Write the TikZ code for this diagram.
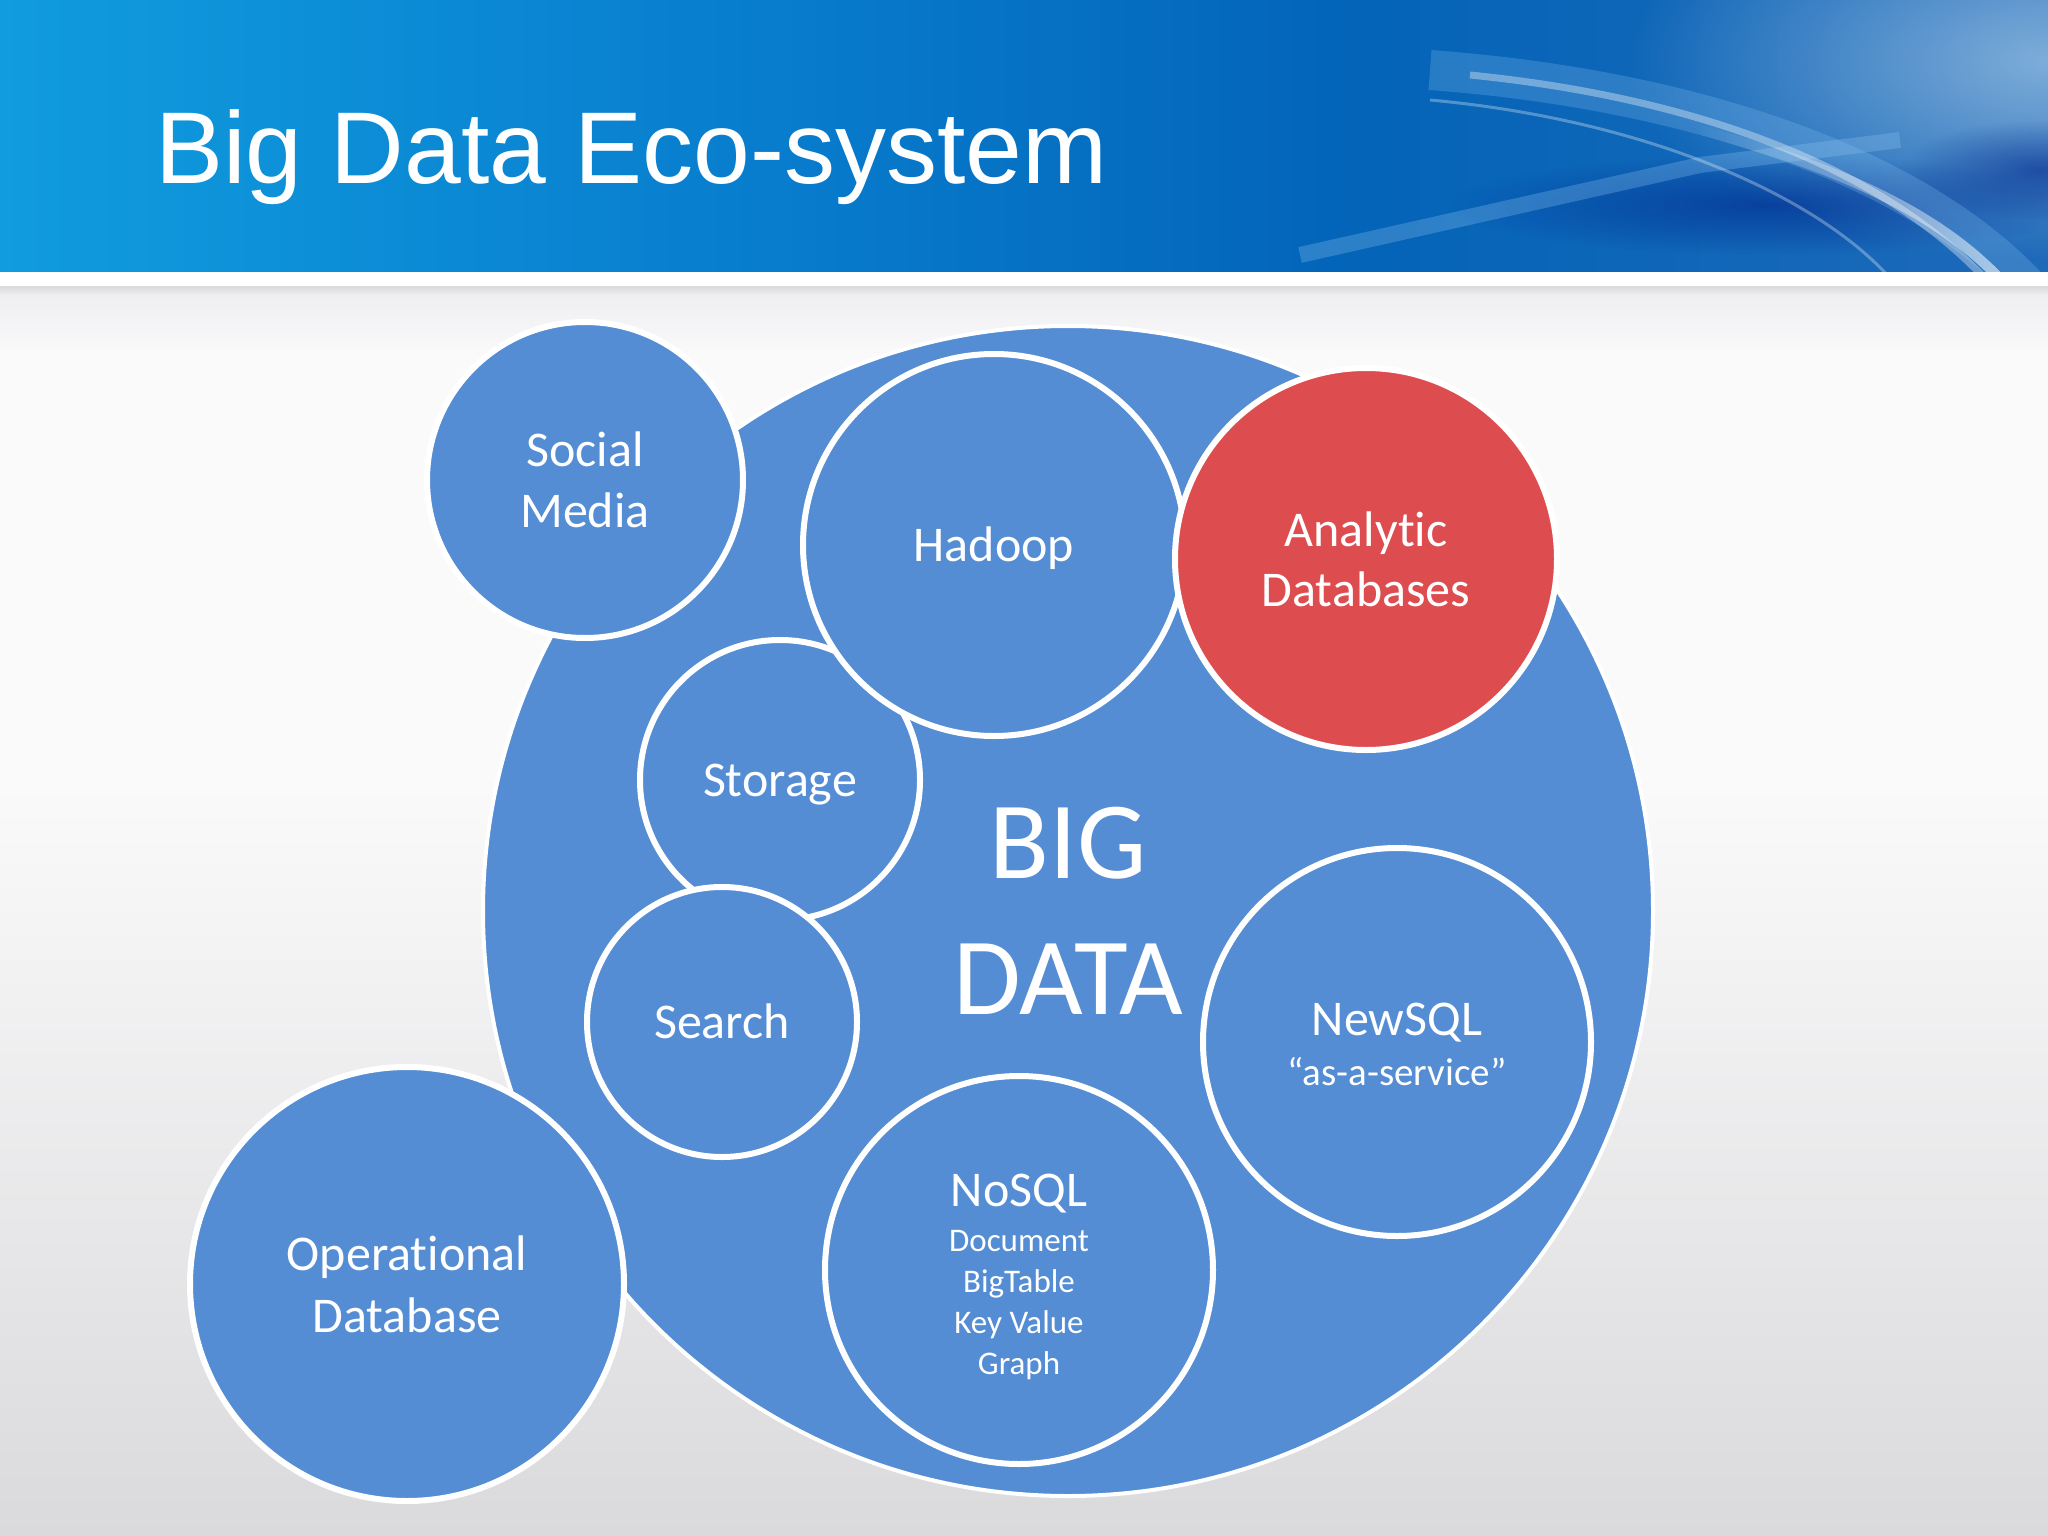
\documentclass[tikz,border=0pt]{standalone}
\usepackage{fontspec}
\setmainfont{Carlito}[Ligatures={NoCommon}]
\newfontfamily\titlefont{Liberation Sans}
\usetikzlibrary{fadings}
\definecolor{bblue}{RGB}{84,141,212}
\definecolor{rred}{RGB}{221,77,80}
\definecolor{bgtop}{RGB}{236,236,239}
\definecolor{bgmid}{RGB}{250,250,251}
\definecolor{bgbot}{RGB}{218,218,220}
\definecolor{tbA}{RGB}{16,156,222}
\definecolor{tbB}{RGB}{8,124,205}
\definecolor{tbC}{RGB}{3,100,184}
\definecolor{tbD}{RGB}{30,105,185}
\definecolor{tbDark}{RGB}{0,40,140}
\definecolor{tbLight}{RGB}{140,195,240}
\definecolor{tbPale}{RGB}{150,190,225}
\pgfdeclarehorizontalshading{band}{100bp}{color(0bp)=(tbA); color(25bp)=(tbA); color(44bp)=(tbB); color(58bp)=(tbC); color(75bp)=(tbD); color(100bp)=(tbD)}
\pgfdeclareverticalshading{bgshade}{100bp}{color(0bp)=(bgbot); color(25bp)=(bgbot); color(55bp)=(bgmid); color(72bp)=(bgmid); color(75bp)=(bgtop); color(100bp)=(bgtop)}
\tikzfading[name=softglow, inner color=transparent!0, outer color=transparent!100]
\tikzset{
  bub/.style={circle, draw=white, line width=6pt, fill=bblue, text=white, align=center, inner sep=0pt, font=\fontsize{50}{61}\selectfont},
  redbub/.style={bub, fill=rred},
  oneline/.style={text height=32pt, text depth=0pt},
}
\begin{document}
\begin{tikzpicture}[x=1pt,y=-1pt]
\useasboundingbox (0,0) rectangle (2048,1536);
% background
\shade[shading=bgshade] (0,280) rectangle (2048,1536);
% title band
\shade[shading=band] (0,0) rectangle (2048,272);
\begin{scope}
  \clip (0,0) rectangle (2048,272);
  \fill[tbPale, opacity=0.8, path fading=softglow] (2048,60) ellipse [x radius=420, y radius=200];
  \fill[tbDark, opacity=0.6, path fading=softglow] (1770,205) ellipse [x radius=320, y radius=50];
  \fill[tbDark, opacity=0.6, path fading=softglow] (2040,170) ellipse [x radius=140, y radius=50];
  \draw[line width=16pt, tbLight, opacity=0.3] (1300,255) -- (1700,165) -- (1900,140);
  \draw[line width=40pt, tbLight, opacity=0.25] (1430,70) .. controls (1700,90) and (1920,170) .. (2030,290);
  \draw[line width=7pt, white, opacity=0.35] (1470,75) .. controls (1720,100) and (1900,180) .. (1995,290);
  \draw[line width=10pt, white, opacity=0.6, path fading=west] (1700,130) .. controls (1850,170) and (1950,220) .. (2010,290);
  \draw[line width=3pt, white, opacity=0.3] (1430,100) .. controls (1650,120) and (1830,200) .. (1900,290);
\end{scope}
\fill[white] (0,272) rectangle (2048,286);
\shade[top color=black!15, bottom color=bgtop] (0,286) rectangle (2048,294);
% title
\node[anchor=base west, inner sep=0pt, text=white, font=\titlefont\fontsize{102}{122}\selectfont] (title) at (155,183) {Big Data Eco-system};
% circles
\node[bub, minimum size=1170pt, line width=4pt, font=\fontsize{110}{136}\selectfont] (big) at (1068,911) {BIG\\DATA};
\node[bub, oneline, minimum size=280pt] (storage) at (780,780) {Storage};
\node[bub, oneline, minimum size=382pt] (hadoop) at (994,545) {Hadoop};
\node[redbub, minimum size=382pt, font=\fontsize{50}{60}\selectfont] (analytic) at (1366,559) {Analytic\\Databases};
\node[bub, oneline, minimum size=270pt] (search) at (722,1022) {Search};
\node[bub, minimum size=388pt, font=\fontsize{33}{41}\selectfont] (nosql) at (1019,1270) {{\fontsize{50}{61}\selectfont\rule{0pt}{46pt}NoSQL}\\[4pt]Document\\BigTable\\Key Value\\Graph};
\node[bub, minimum size=388pt, font=\fontsize{39}{50}\selectfont] (newsql) at (1397,1042) {{\fontsize{50}{61}\selectfont\rule{0pt}{38pt}NewSQL}\\“as-a-service”};
\node[bub, minimum size=316pt] (social) at (585,480) {Social\\Media};
\node[bub, minimum size=434pt, font=\fontsize{50}{62}\selectfont] (operational) at (407,1284) {Operational\\Database};
\end{tikzpicture}
\end{document}
